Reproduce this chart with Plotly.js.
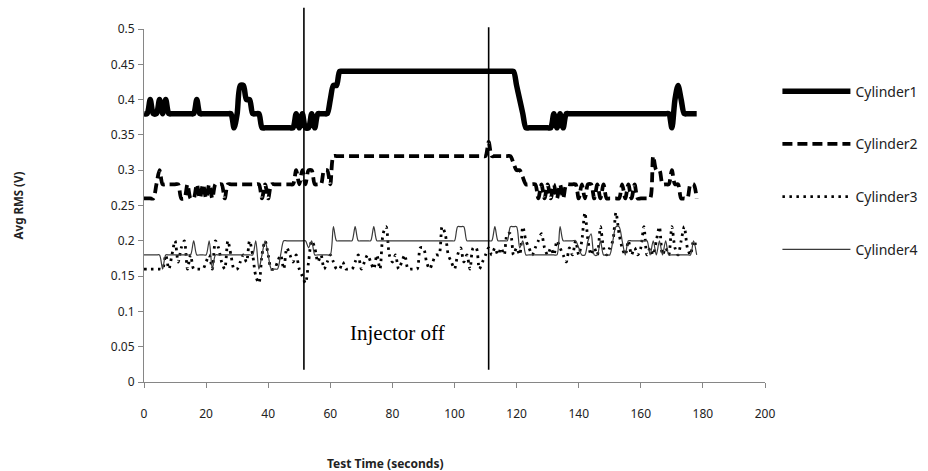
<!DOCTYPE html>
<html>
<head>
<meta charset="utf-8">
<script src="https://cdn.plot.ly/plotly-3.0.1.min.js"></script>
<style>html,body{margin:0;padding:0;background:#fff;}#chart{width:928px;height:471px;}</style>
</head>
<body>
<div id="chart"></div>
<script>
// Samples every 1 second starting at t = 0
const seriesNames = ["Cylinder1", "Cylinder2", "Cylinder3", "Cylinder4"];

const cylinder1 = [
  0.38,0.38,0.40,0.38,0.38,0.40,0.38,0.40,0.38,0.38,
  0.38,0.38,0.38,0.38,0.38,0.38,0.38,0.40,0.38,0.38,
  0.38,0.38,0.38,0.38,0.38,0.38,0.38,0.38,0.38,0.36,
  0.38,0.42,0.42,0.40,0.40,0.38,0.38,0.38,0.36,0.36,
  0.36,0.36,0.36,0.36,0.36,0.36,0.36,0.36,0.36,0.38,
  0.36,0.38,0.36,0.36,0.38,0.36,0.38,0.38,0.38,0.38,
  0.40,0.42,0.42,0.44,0.44,0.44,0.44,0.44,0.44,0.44,
  0.44,0.44,0.44,0.44,0.44,0.44,0.44,0.44,0.44,0.44,
  0.44,0.44,0.44,0.44,0.44,0.44,0.44,0.44,0.44,0.44,
  0.44,0.44,0.44,0.44,0.44,0.44,0.44,0.44,0.44,0.44,
  0.44,0.44,0.44,0.44,0.44,0.44,0.44,0.44,0.44,0.44,
  0.44,0.44,0.44,0.44,0.44,0.44,0.44,0.44,0.44,0.44,
  0.42,0.40,0.38,0.36,0.36,0.36,0.36,0.36,0.36,0.36,
  0.36,0.36,0.38,0.36,0.38,0.36,0.38,0.38,0.38,0.38,
  0.38,0.38,0.38,0.38,0.38,0.38,0.38,0.38,0.38,0.38,
  0.38,0.38,0.38,0.38,0.38,0.38,0.38,0.38,0.38,0.38,
  0.38,0.38,0.38,0.38,0.38,0.38,0.38,0.38,0.38,0.38,
  0.36,0.40,0.42,0.40,0.38,0.38,0.38,0.38,0.38
];

const cylinder2 = [
  0.26,0.26,0.26,0.26,0.28,0.30,0.28,0.28,0.28,0.28,
  0.28,0.28,0.26,0.26,0.28,0.26,0.26,0.28,0.26,0.28,
  0.26,0.28,0.26,0.28,0.28,0.28,0.26,0.28,0.28,0.28,
  0.28,0.28,0.28,0.28,0.28,0.28,0.28,0.28,0.26,0.28,
  0.26,0.28,0.28,0.28,0.28,0.28,0.28,0.28,0.28,0.30,
  0.28,0.30,0.28,0.30,0.30,0.28,0.28,0.28,0.30,0.30,
  0.28,0.32,0.32,0.32,0.32,0.32,0.32,0.32,0.32,0.32,
  0.32,0.32,0.32,0.32,0.32,0.32,0.32,0.32,0.32,0.32,
  0.32,0.32,0.32,0.32,0.32,0.32,0.32,0.32,0.32,0.32,
  0.32,0.32,0.32,0.32,0.32,0.32,0.32,0.32,0.32,0.32,
  0.32,0.32,0.32,0.32,0.32,0.32,0.32,0.32,0.32,0.32,
  0.32,0.34,0.32,0.32,0.32,0.32,0.32,0.32,0.32,0.31,
  0.30,0.30,0.29,0.28,0.28,0.28,0.28,0.26,0.28,0.26,
  0.28,0.26,0.28,0.26,0.28,0.26,0.28,0.28,0.28,0.28,
  0.26,0.28,0.26,0.28,0.28,0.26,0.28,0.26,0.28,0.26,
  0.26,0.26,0.26,0.26,0.28,0.26,0.28,0.26,0.28,0.26,
  0.26,0.26,0.26,0.26,0.32,0.30,0.30,0.28,0.28,0.28,
  0.30,0.28,0.28,0.26,0.26,0.26,0.28,0.28,0.26
];

const cylinder3 = [
  0.16,0.16,0.16,0.16,0.16,0.16,0.16,0.18,0.16,0.18,
  0.20,0.17,0.19,0.20,0.16,0.18,0.16,0.16,0.16,0.16,
  0.17,0.18,0.16,0.20,0.19,0.17,0.16,0.20,0.18,0.16,
  0.16,0.17,0.18,0.17,0.20,0.18,0.15,0.14,0.18,0.20,
  0.18,0.16,0.16,0.17,0.18,0.16,0.19,0.18,0.17,0.18,
  0.16,0.15,0.14,0.17,0.20,0.19,0.17,0.18,0.16,0.17,
  0.18,0.17,0.16,0.16,0.17,0.16,0.16,0.16,0.17,0.18,
  0.16,0.17,0.18,0.17,0.16,0.18,0.16,0.21,0.22,0.18,
  0.17,0.18,0.16,0.17,0.18,0.16,0.16,0.16,0.16,0.19,
  0.19,0.17,0.16,0.17,0.18,0.18,0.22,0.21,0.18,0.17,
  0.16,0.18,0.19,0.17,0.18,0.16,0.19,0.19,0.16,0.17,
  0.18,0.19,0.18,0.19,0.18,0.19,0.18,0.21,0.21,0.18,
  0.19,0.18,0.22,0.20,0.19,0.18,0.19,0.20,0.21,0.19,
  0.18,0.19,0.18,0.20,0.19,0.18,0.17,0.19,0.18,0.20,
  0.18,0.20,0.24,0.20,0.18,0.19,0.18,0.22,0.19,0.18,
  0.19,0.20,0.24,0.21,0.19,0.18,0.20,0.18,0.19,0.18,
  0.19,0.22,0.18,0.19,0.18,0.20,0.22,0.18,0.19,0.18,
  0.22,0.19,0.18,0.20,0.22,0.19,0.18,0.20,0.19
];

const cylinder4 = [
  0.18,0.18,0.18,0.18,0.18,0.18,0.16,0.18,0.18,0.18,
  0.18,0.18,0.18,0.18,0.18,0.18,0.20,0.18,0.18,0.18,
  0.18,0.20,0.16,0.18,0.18,0.18,0.18,0.18,0.18,0.18,
  0.18,0.18,0.18,0.18,0.18,0.18,0.20,0.16,0.18,0.20,
  0.18,0.16,0.16,0.16,0.18,0.20,0.20,0.20,0.20,0.20,
  0.20,0.20,0.20,0.19,0.20,0.18,0.18,0.18,0.18,0.18,
  0.18,0.22,0.20,0.20,0.20,0.20,0.20,0.20,0.22,0.20,
  0.20,0.20,0.20,0.20,0.22,0.20,0.20,0.20,0.20,0.20,
  0.20,0.20,0.20,0.20,0.20,0.20,0.20,0.20,0.20,0.20,
  0.20,0.20,0.20,0.20,0.20,0.20,0.20,0.20,0.20,0.20,
  0.20,0.22,0.22,0.22,0.20,0.20,0.20,0.20,0.20,0.20,
  0.20,0.20,0.20,0.22,0.20,0.20,0.20,0.20,0.22,0.22,
  0.22,0.19,0.20,0.18,0.18,0.18,0.18,0.18,0.18,0.18,
  0.18,0.18,0.18,0.18,0.22,0.20,0.20,0.20,0.20,0.20,
  0.19,0.18,0.18,0.20,0.21,0.18,0.18,0.20,0.18,0.18,
  0.18,0.20,0.22,0.22,0.20,0.18,0.20,0.20,0.20,0.20,
  0.20,0.20,0.20,0.18,0.20,0.18,0.20,0.18,0.20,0.18,
  0.18,0.18,0.18,0.18,0.18,0.18,0.18,0.20,0.18
];

// Injector-off markers (seconds) and their vertical extents (paper fraction)
const injectorTimes = [51.5, 111];
const injectorTop = [1.06, 1.005];
const injectorBottom = [0.035, 0.035];
const injectorLabel = "Injector off";
const injectorLabelPos = [81.5, 0.07];

const xTitle = "Test Time (seconds)";
const yTitle = "Avg RMS (V)";

const values = [cylinder1, cylinder2, cylinder3, cylinder4];
const lineStyles = [
  {color: "#000000", width: 5.5, dash: "solid"},
  {color: "#000000", width: 3.8, dash: "10px,5px"},
  {color: "#000000", width: 2.8, dash: "2.5px,4.5px"},
  {color: "#3a3a3a", width: 1.2, dash: "solid"}
];

const traces = values.map((v, i) => ({
  type: "scatter",
  mode: "lines",
  name: seriesNames[i],
  x0: 0, dx: 1,
  y: v,
  legendgroup: "g" + i,
  line: Object.assign({shape: "spline", smoothing: 0.8}, lineStyles[i])
}));

const shapes = injectorTimes.map((t, i) => ({
  type: "line", xref: "x", yref: "paper",
  x0: t, x1: t, y0: injectorBottom[i], y1: injectorTop[i],
  line: {color: "#000", width: 1.6}
}));

const font = "'Noto Sans', 'Open Sans', sans-serif";

const layout = {
  width: 928, height: 471,
  margin: {l: 144, r: 163, t: 29, b: 89, autoexpand: false},
  paper_bgcolor: "#fff", plot_bgcolor: "#fff",
  font: {family: font, size: 12, color: "#222"},
  showlegend: true,
  legend: {
    x: 1.02, xanchor: "left", y: 0.868, yanchor: "top",
    font: {family: font, size: 14, color: "#222"},
    itemwidth: 68,
    tracegroupgap: 31.5, bgcolor: "rgba(0,0,0,0)"
  },
  xaxis: {
    range: [0, 200], dtick: 20, tick0: 0,
    showgrid: false, zeroline: false,
    showline: true, linecolor: "#868686", linewidth: 1,
    ticks: "outside", ticklen: 5, tickcolor: "#868686",
    ticklabelstandoff: 16,
    tickfont: {family: font, size: 12, color: "#222"}
  },
  yaxis: {
    range: [0, 0.5], dtick: 0.05, tick0: 0,
    showgrid: false, zeroline: false,
    showline: true, linecolor: "#868686", linewidth: 1,
    ticks: "outside", ticklen: 5, tickcolor: "#868686",
    ticklabelstandoff: 1,
    tickfont: {family: font, size: 12, color: "#222"},
    title: {text: yTitle, standoff: 84, font: {family: font, size: 11.5, color: "#222", weight: "bold"}}
  },
  shapes: shapes,
  annotations: [
    {
      text: injectorLabel, xref: "x", yref: "y",
      x: injectorLabelPos[0], y: injectorLabelPos[1],
      showarrow: false,
      font: {family: "'Liberation Serif', 'Times New Roman', serif", size: 21, color: "#000"}
    },
    {
      text: xTitle, xref: "paper", yref: "paper",
      x: 0.389, y: -0.23, xanchor: "center", yanchor: "middle",
      showarrow: false,
      font: {family: font, size: 12, color: "#222", weight: "bold"}
    }
  ]
};

Plotly.newPlot("chart", traces, layout, {displayModeBar: false, staticPlot: true});
</script>
</body>
</html>
